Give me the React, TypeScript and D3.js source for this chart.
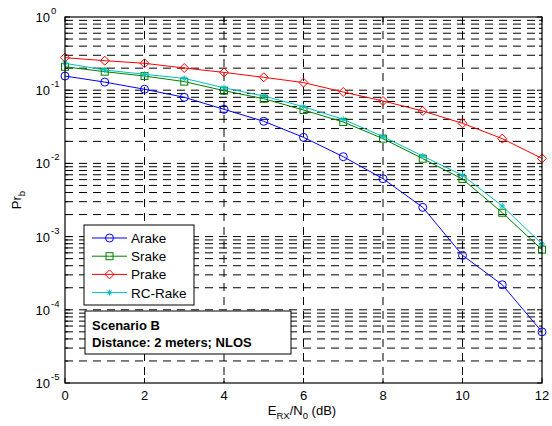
import React from "react";
import * as d3 from "d3";

const snr = [0, 1, 2, 3, 4, 5, 6, 7, 8, 9, 10, 11, 12];
const arake = [0.156, 0.129, 0.103, 0.08, 0.0548, 0.0376, 0.0227, 0.01235, 0.00618, 0.00251, 0.000555, 0.00022, 0.00005];
const srake = [0.209, 0.179, 0.156, 0.131, 0.0986, 0.0765, 0.0536, 0.0368, 0.0218, 0.0116, 0.00612, 0.00212, 0.000663];
const prake = [0.278, 0.253, 0.233, 0.201, 0.175, 0.15, 0.127, 0.0945, 0.0712, 0.052, 0.0353, 0.0218, 0.0117];
const rcrake = [0.233, 0.189, 0.165, 0.145, 0.108, 0.0833, 0.0595, 0.04, 0.0232, 0.0126, 0.00688, 0.00262, 0.000792];
const xTicks = [0, 2, 4, 6, 8, 10, 12];
const yExponents = [0, -1, -2, -3, -4, -5];
const seriesNames = ["Arake", "Srake", "Prake", "RC-Rake"];
const colors = ["#0000ff", "#008000", "#ff0000", "#00bfbf"];
const markers = ["circle", "square", "diamond", "star"];
const noteLines = ["Scenario B", "Distance: 2 meters; NLOS"];

const L = 65, R = 542, T = 17, B = 383;
const FONT = "Liberation Sans, Arial, sans-serif";

function Marker({ type, x, y, color }: { type: string; x: number; y: number; color: string }) {
  if (type === "circle") return <circle cx={x} cy={y} r={4} fill="none" stroke={color} strokeWidth={1} />;
  if (type === "square") return <rect x={x - 3.5} y={y - 3.5} width={7} height={7} fill="none" stroke={color} strokeWidth={1} />;
  if (type === "diamond")
    return <path d={`M${x},${y - 4.5}L${x + 4.5},${y}L${x},${y + 4.5}L${x - 4.5},${y}Z`} fill="none" stroke={color} strokeWidth={1} />;
  const s = 3;
  return (
    <path
      d={`M${x - s},${y}L${x + s},${y}M${x},${y - s}L${x},${y + s}M${x - s * 0.7},${y - s * 0.7}L${x + s * 0.7},${y + s * 0.7}M${x - s * 0.7},${y + s * 0.7}L${x + s * 0.7},${y - s * 0.7}`}
      stroke={color}
      strokeWidth={1}
    />
  );
}

export default function App() {
  const x = d3.scaleLinear().domain([0, 12]).range([L, R]);
  const y = d3.scaleLog().domain([1e-5, 1]).range([B, T]);
  const data = [arake, srake, prake, rcrake];
  const line = d3
    .line<number>()
    .x((_, i) => x(snr[i]))
    .y((d) => y(d));

  const minor: number[] = [];
  for (let e = -5; e < 0; e++) for (let m = 2; m <= 9; m++) minor.push(m * Math.pow(10, e));
  const major = yExponents.map((e) => Math.pow(10, e));
  const dash = "8,6";

  return (
    <svg width={552} height={426} style={{ position: "absolute", left: 0, top: 0 }} fontFamily={FONT}>
      <rect x={0} y={0} width={552} height={426} fill="#fff" />
      {/* grid */}
      <g stroke="#000" strokeWidth={1} strokeDasharray={dash}>
        {[...minor, ...major.slice(1, -1)].map((v, i) => (
          <line key={"h" + i} x1={L} x2={R} y1={y(v)} y2={y(v)} />
        ))}
        {xTicks.slice(1, -1).map((v) => (
          <line key={"v" + v} x1={x(v)} x2={x(v)} y1={T} y2={B} />
        ))}
      </g>
      {/* ticks */}
      <g stroke="#000" strokeWidth={1}>
        {xTicks.map((v) => (
          <g key={"xt" + v}>
            <line x1={x(v)} x2={x(v)} y1={B} y2={B - 5} />
            <line x1={x(v)} x2={x(v)} y1={T} y2={T + 5} />
          </g>
        ))}
        {major.map((v, i) => (
          <g key={"yt" + i}>
            <line x1={L} x2={L + 5} y1={y(v)} y2={y(v)} />
            <line x1={R} x2={R - 5} y1={y(v)} y2={y(v)} />
          </g>
        ))}
        {minor.map((v, i) => (
          <g key={"ym" + i}>
            <line x1={L} x2={L + 3} y1={y(v)} y2={y(v)} />
            <line x1={R} x2={R - 3} y1={y(v)} y2={y(v)} />
          </g>
        ))}
      </g>
      {/* series */}
      {data.map((d, si) => (
        <g key={"s" + si}>
          <path d={line(d) || ""} fill="none" stroke={colors[si]} strokeWidth={1} />
          {d.map((v, i) => (
            <Marker key={i} type={markers[si]} x={x(snr[i])} y={y(v)} color={colors[si]} />
          ))}
        </g>
      ))}
      {/* axes box */}
      <rect x={L} y={T} width={R - L} height={B - T} fill="none" stroke="#000" strokeWidth={1.2} />
      {/* tick labels */}
      <g fontSize={13} fill="#000">
        {xTicks.map((v) => (
          <text key={"xl" + v} x={x(v)} y={400} textAnchor="middle">
            {v}
          </text>
        ))}
        {yExponents.map((e) => (
          <g key={"yl" + e}>
            <text x={50} y={y(Math.pow(10, e)) + 5} textAnchor="end">
              10
            </text>
            <text x={51} y={y(Math.pow(10, e)) - 3} fontSize={9.5}>
              {e}
            </text>
          </g>
        ))}
      </g>
      {/* axis labels */}
      <text x={302} y={415} textAnchor="middle" fontSize={13}>
        E<tspan fontSize={9.5} dy={4}>RX</tspan>
        <tspan dy={-4}>/N</tspan>
        <tspan fontSize={9.5} dy={4}>0</tspan>
        <tspan dy={-4}> (dB)</tspan>
      </text>
      <text transform="translate(21,200) rotate(-90)" textAnchor="middle" fontSize={13}>
        Pr<tspan fontSize={9.5} dy={4}>b</tspan>
      </text>
      {/* legend */}
      <rect x={84} y={225} width={110} height={80} fill="#fff" stroke="#000" strokeWidth={1} />
      {seriesNames.map((n, i) => {
        const ly = 238 + i * 18.2;
        return (
          <g key={"lg" + i}>
            <line x1={92} x2={127} y1={ly} y2={ly} stroke={colors[i]} strokeWidth={1} />
            <Marker type={markers[i]} x={109.5} y={ly} color={colors[i]} />
            <text x={131} y={ly + 5} fontSize={13.5}>
              {n}
            </text>
          </g>
        );
      })}
      {/* note box */}
      <rect x={85} y={311} width={206} height={43} fill="#fff" stroke="#000" strokeWidth={1} />
      {noteLines.map((t, i) => (
        <text key={"n" + i} x={92} y={330 + i * 16.5} fontSize={13} fontWeight="bold">
          {t}
        </text>
      ))}
    </svg>
  );
}
